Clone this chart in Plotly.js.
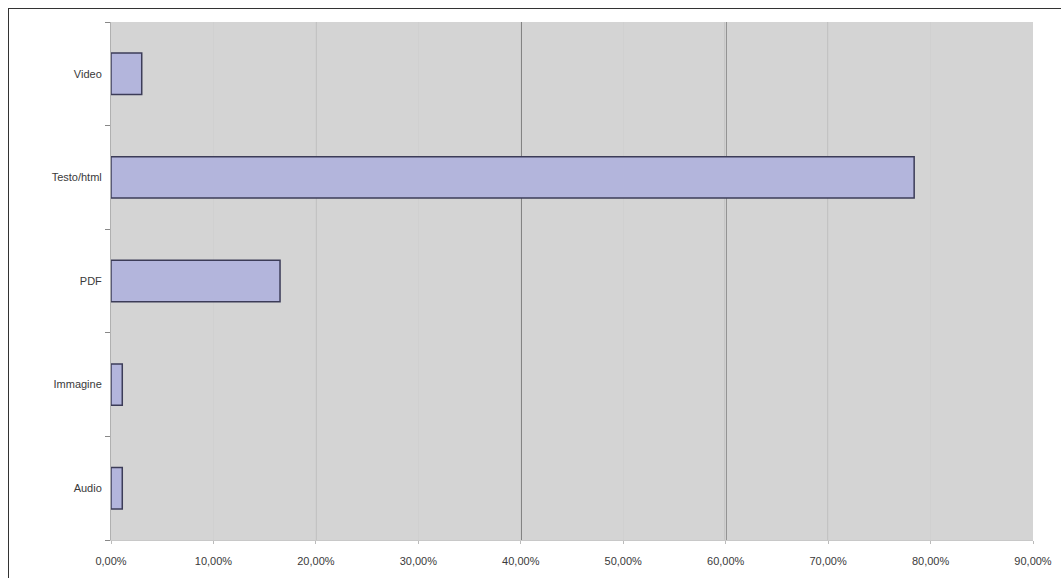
<!DOCTYPE html>
<html>
<head>
<meta charset="utf-8">
<script src="https://cdn.plot.ly/plotly-3.0.1.min.js"></script>
<style>
  html, body { margin: 0; padding: 0; background: #fff; overflow: hidden; }
  #frame { position: absolute; left: 8px; top: 8px; width: 1100px; height: 600px;
           border-left: 1px solid #333; border-top: 1px solid #333; }
  #chart { position: absolute; left: 0; top: 0; width: 1061px; height: 578px; }
</style>
</head>
<body>
<div id="frame"></div>
<div id="chart"></div>
<script>
// Data (bottom to top)
const categories = ["Audio", "Immagine", "PDF", "Testo/html", "Video"];
const shares = [0.011, 0.011, 0.165, 0.784, 0.030];
const xTickValues = [0, 0.1, 0.2, 0.3, 0.4, 0.5, 0.6, 0.7, 0.8, 0.9];
const darkLines = [0.4, 0.6];
const mediumLines = [0.2, 0.7];

const trace = {
  type: "bar",
  orientation: "h",
  x: shares,
  y: categories,
  marker: { color: "#b3b5dc", line: { color: "#3c3c58", width: 1.5 } },
  hoverinfo: "x+y"
};

const shapes = [];
darkLines.forEach(v => shapes.push({
  type: "line", xref: "x", yref: "paper", x0: v, x1: v, y0: 0, y1: 1,
  line: { color: "#3a3a3a", width: 1.5 }, layer: "below"
}));
mediumLines.forEach(v => shapes.push({
  type: "line", xref: "x", yref: "paper", x0: v, x1: v, y0: 0, y1: 1,
  line: { color: "#a8a8a8", width: 1 }, layer: "below"
}));

const layout = {
  width: 1061, height: 578,
  margin: { l: 111, r: 28, t: 22, b: 38 },
  paper_bgcolor: "rgba(0,0,0,0)",
  plot_bgcolor: "#d4d4d4",
  separators: ",.",
  showlegend: false,
  bargap: 0.6,
  font: { family: "Liberation Sans, Arial, sans-serif", size: 11, color: "#3a3a3a" },
  xaxis: {
    range: [0, 0.9],
    tickvals: xTickValues,
    tickformat: ".2%",
    showgrid: true,
    gridcolor: "#d0d0d0",
    gridwidth: 1,
    zeroline: false,
    showline: true,
    linecolor: "#c8c8c8",
    ticks: "outside",
    ticklen: 3,
    tickcolor: "#bbb",
    ticklabelstandoff: 8,
    fixedrange: true
  },
  yaxis: {
    type: "category",
    categoryorder: "array",
    categoryarray: categories,
    showgrid: false,
    zeroline: false,
    showline: true,
    linecolor: "#b0b0b0",
    ticks: "outside",
    tickson: "boundaries",
    ticklen: 5,
    tickcolor: "#888",
    ticklabelstandoff: 6,
    fixedrange: true
  },
  shapes: shapes
};

Plotly.newPlot("chart", [trace], layout, { displayModeBar: false, staticPlot: true });
</script>
</body>
</html>
